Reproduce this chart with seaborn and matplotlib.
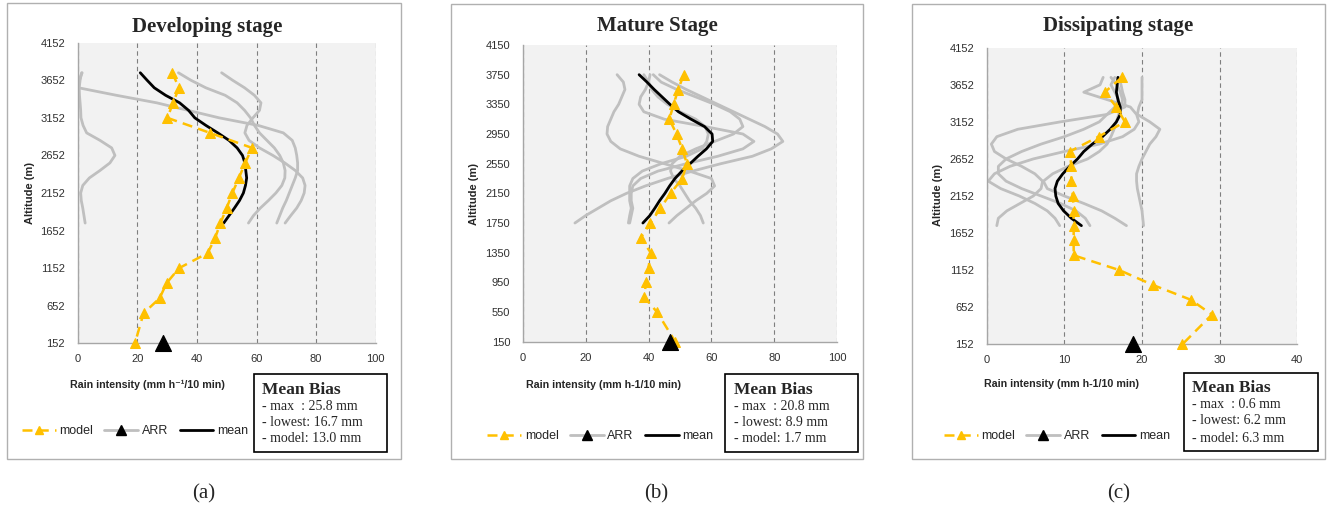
import numpy as np
import pandas as pd
import matplotlib
matplotlib.use("Agg")
import matplotlib.pyplot as plt
import seaborn as sns
from matplotlib.lines import Line2D
from matplotlib.patches import Rectangle

sns.set_style("white")
plt.rcParams['font.family'] = ['Liberation Sans', 'DejaVu Sans']

# ---------------- data ----------------
TITLES = ["Developing stage", "Mature Stage", "Dissipating stage"]
SUBLABELS = ["(a)", "(b)", "(c)"]
XLABELS = ["Rain intensity (mm h\u207b\u00b9/10 min)",
           "Rain intensity (mm h-1/10 min)",
           "Rain intensity (mm h-1/10 min)"]
BIAS_A = ["- max  : 25.8 mm", "- lowest: 16.7 mm", "- model: 13.0 mm"]
BIAS_B = ["- max  : 20.8 mm", "- lowest: 8.9 mm", "- model: 1.7 mm"]
BIAS_C = ["- max  : 0.6 mm", "- lowest: 6.2 mm", "- model: 6.3 mm"]

YTICKS_A = [152, 652, 1152, 1652, 2152, 2652, 3152, 3652, 4152]
YTICKS_B = [150, 550, 950, 1350, 1750, 2150, 2550, 2950, 3350, 3750, 4150]
YTICKS_C = [152, 652, 1152, 1652, 2152, 2652, 3152, 3652, 4152]
XTICKS_A = [0, 20, 40, 60, 80, 100]
XTICKS_B = [0, 20, 40, 60, 80, 100]
XTICKS_C = [0, 10, 20, 30, 40]

# panel (a)
ALT_A_MODEL = [3752, 3552, 3352, 3152, 2952, 2752, 2552, 2352, 2152, 1952, 1752,
               1552, 1352, 1152, 952, 752, 552, 152]
MODEL_A = [31.7, 34.0, 32.0, 30.1, 44.4, 58.5, 56.2, 54.1, 51.9, 50.0, 47.9,
           46.1, 43.6, 34.0, 29.8, 27.5, 22.1, 19.2]
ALT_A_GREY = [3752, 3652, 3552, 3452, 3352, 3252, 3152, 3052, 2952, 2852, 2752,
              2652, 2552, 2452, 2352, 2252, 2152, 2052, 1952, 1852, 1752]
MEAN_A = [21.0, 23.3, 25.7, 29.5, 34.2, 37.2, 39.3, 43.0, 47.0, 50.8, 53.5,
          55.3, 56.1, 56.4, 56.7, 56.3, 55.6, 54.3, 52.6, 50.8, 49.0]
OBS_A1 = [1.3, 0.8, 0.5, 0.6, 0.8, 1.0, 1.1, 1.8, 3.0, 7.5, 11.4,
          12.5, 10.8, 7.5, 3.9, 1.7, 1.0, 1.2, 1.7, 2.1, 2.5]
OBS_A2 = [33.8, 38.0, 43.0, 49.5, 53.5, 56.0, 58.0, 59.3, 61.0, 63.5, 66.0,
          67.8, 69.0, 69.6, 69.5, 68.5, 66.5, 64.0, 61.3, 59.0, 57.3]
OBS_A3 = [48.3, 52.0, 56.0, 59.3, 61.5, 61.0, 58.8, 56.8, 56.1, 57.5, 61.0,
          65.5, 69.5, 73.0, 75.5, 76.3, 76.0, 75.0, 73.5, 71.5, 69.6]
OBS_A4 = [1.5, 0.5, 0.3, 13.0, 26.5, 37.0, 47.5, 60.5, 69.0, 72.0, 73.0,
          73.5, 73.8, 73.8, 73.0, 72.0, 71.0, 70.0, 68.8, 67.8, 66.8]
ARR_A = 28.7

# panel (b)
ALT_B_MODEL = [3750, 3550, 3350, 3150, 2950, 2750, 2550, 2350, 2150, 1950, 1750,
               1550, 1350, 1150, 950, 750, 550, 150]
MODEL_B = [51.2, 49.4, 48.0, 46.6, 48.9, 50.7, 52.2, 50.7, 47.0, 43.8, 40.6,
           37.5, 40.7, 40.0, 39.2, 38.6, 42.7, 48.5]
ALT_B_GREY = [3750, 3650, 3550, 3450, 3350, 3250, 3150, 3050, 2950, 2850, 2750,
              2650, 2550, 2450, 2350, 2250, 2150, 2050, 1950, 1850, 1750]
MEAN_B = [37.0, 39.5, 41.8, 44.3, 46.8, 49.5, 53.5, 57.8, 60.2, 60.4, 58.4,
          55.7, 53.2, 50.6, 48.4, 46.7, 45.2, 43.5, 42.0, 40.4, 38.2]
OBS_B1 = [30.0, 32.0, 32.5, 31.5, 30.5, 29.0, 28.0, 27.0, 26.8, 28.0, 31.0,
          37.0, 45.0, 53.0, 60.0, 61.0, 58.5, 55.0, 52.0, 49.0, 46.5]
OBS_B2 = [43.5, 47.5, 52.0, 57.0, 62.0, 67.0, 72.0, 77.0, 81.0, 82.7, 79.0,
          73.0, 63.0, 54.0, 46.0, 39.0, 33.0, 28.0, 24.0, 20.0, 16.6]
OBS_B3 = [40.5, 40.0, 39.0, 37.5, 37.0, 38.5, 45.0, 58.0, 70.0, 73.5, 70.0,
          62.0, 52.0, 43.0, 37.5, 35.0, 34.5, 34.5, 35.0, 34.5, 34.0]
OBS_B4 = [41.5, 44.0, 49.0, 55.0, 61.0, 66.0, 69.0, 70.0, 67.0, 61.0, 55.0,
          50.0, 47.5, 47.0, 48.0, 50.0, 51.5, 53.0, 55.0, 56.5, 57.4]
OBS_B5 = [38.5, 40.0, 41.0, 43.0, 46.0, 50.0, 55.0, 58.0, 59.0, 58.5, 57.0,
          52.0, 44.0, 38.0, 35.0, 34.0, 34.0, 34.0, 34.5, 34.0, 33.6]
ARR_B = 46.8

# panel (c)
ALT_C_MODEL = [3752, 3552, 3352, 3152, 2952, 2752, 2552, 2352, 2152, 1952, 1752,
               1552, 1352, 1152, 952, 752, 552, 152]
MODEL_C = [17.4, 15.2, 16.7, 17.8, 14.4, 10.7, 10.9, 10.9, 11.1, 11.2, 11.2,
           11.2, 11.2, 17.1, 21.4, 26.3, 29.0, 25.2]
ALT_C_GREY = [3752, 3652, 3552, 3452, 3352, 3252, 3152, 3052, 2952, 2852, 2752,
              2652, 2552, 2452, 2352, 2252, 2152, 2052, 1952, 1852, 1752]
MEAN_C = [16.9, 16.8, 16.7, 16.9, 17.2, 17.2, 16.7, 15.9, 14.9, 13.6, 12.5,
          11.7, 10.7, 9.8, 9.1, 8.8, 8.9, 9.2, 9.9, 10.9, 12.2]
OBS_C1 = [20.0, 20.0, 20.0, 20.0, 19.6, 19.4, 21.0, 22.3, 21.8, 21.0, 20.5,
          20.0, 19.6, 19.3, 19.3, 19.4, 19.6, 19.8, 20.0, 20.1, 20.2]
OBS_C2 = [17.0, 17.3, 17.5, 17.8, 17.8, 15.5, 9.5, 4.0, 1.3, 0.6, 1.0,
          2.5, 4.5, 6.2, 7.2, 7.0, 6.0, 4.3, 2.6, 1.5, 1.3]
OBS_C3 = [15.0, 14.6, 12.5, 15.5, 18.5, 19.3, 19.6, 19.0, 17.5, 14.5, 10.0,
          6.0, 3.0, 1.0, 0.2, 1.8, 4.2, 6.2, 7.8, 8.8, 9.4]
OBS_C4 = [16.5, 16.0, 16.5, 17.0, 16.5, 15.5, 14.5, 12.5, 10.0, 7.0, 4.5,
          2.5, 1.5, 1.5, 2.5, 4.5, 7.0, 9.5, 11.5, 12.7, 13.3]
OBS_C5 = [16.0, 16.8, 17.2, 17.5, 17.3, 17.0, 16.7, 16.4, 16.0, 15.5, 14.5,
          13.0, 10.5, 8.5, 7.3, 7.8, 10.0, 12.5, 14.8, 16.5, 18.0]
ARR_C = 18.8

# ---------------- layout (pixels) ----------------
W, H = 1328, 512
fig = plt.figure(figsize=(W / 100, H / 100), dpi=100)


def fx(px):
    return px / W


def fy(py):
    return 1 - py / H


panels = [
    dict(ax=(77.7, 42.7, 375.7, 343.3), frame=(7, 3, 401, 459), title_xy=(207.5, 27),
         xlab_xy=(147.5, 384.5), ylab_xy=(30, 193), leg_xy=(135, 431),
         box=(254, 374, 387, 452), btext_x=262.5, by=(389.5, 407, 422.5, 439),
         sub_xy=(204, 494), xlim=(0, 100), ylim=(152, 4152),
         xt=XTICKS_A, yt=YTICKS_A, alt_m=ALT_A_MODEL, model=MODEL_A,
         alt_g=ALT_A_GREY, mean=MEAN_A, obs=[OBS_A1, OBS_A2, OBS_A3, OBS_A4],
         arr=ARR_A, bias=BIAS_A),
    dict(ax=(522.7, 45, 837.3, 341.7), frame=(451, 4, 863, 458.5), title_xy=(657, 26),
         xlab_xy=(604, 385), ylab_xy=(474, 194), leg_xy=(600.5, 436),
         box=(725, 374, 858, 452), btext_x=733.5, by=(389.5, 407, 422.5, 439),
         sub_xy=(656, 494), xlim=(0, 100), ylim=(150, 4150),
         xt=XTICKS_B, yt=YTICKS_B, alt_m=ALT_B_MODEL, model=MODEL_B,
         alt_g=ALT_B_GREY, mean=MEAN_B, obs=[OBS_B1, OBS_B2, OBS_B3, OBS_B4, OBS_B5],
         arr=ARR_B, bias=BIAS_B),
    dict(ax=(986.7, 47.7, 1297.3, 344.3), frame=(912, 4, 1325, 458.5), title_xy=(1118.5, 26),
         xlab_xy=(1061.5, 384), ylab_xy=(938, 195), leg_xy=(1057, 436),
         box=(1184, 372.7, 1318.3, 451), btext_x=1192.5, by=(388, 405, 421, 438.3),
         sub_xy=(1119, 494), xlim=(0, 40), ylim=(152, 4152),
         xt=XTICKS_C, yt=YTICKS_C, alt_m=ALT_C_MODEL, model=MODEL_C,
         alt_g=ALT_C_GREY, mean=MEAN_C, obs=[OBS_C1, OBS_C2, OBS_C3, OBS_C4, OBS_C5],
         arr=ARR_C, bias=BIAS_C),
]

GOLD = '#FFC000'
GREY = '#BFBFBF'
AXC = '#A6A6A6'

for i, p in enumerate(panels):
    # panel frame
    l, t, r, b = p['frame']
    fig.add_artist(Rectangle((fx(l), fy(b)), (r - l) / W, (b - t) / H,
                             transform=fig.transFigure, fill=False,
                             ec='#B0B0B0', lw=1.0, zorder=0))
    l, t, r, b = p['ax']
    ax = fig.add_axes([fx(l), fy(b), (r - l) / W, (b - t) / H])
    ax.set_facecolor('#F2F2F2')

    for obs in p['obs']:
        sns.lineplot(x=obs, y=p['alt_g'], sort=False, estimator=None, color=GREY,
                     lw=2, ax=ax, legend=False, zorder=2)
    sns.lineplot(x=p['mean'], y=p['alt_g'], sort=False, estimator=None, color='black',
                 lw=2, ax=ax, legend=False, zorder=3)
    sns.lineplot(x=p['model'], y=p['alt_m'], sort=False, estimator=None, color=GOLD,
                 lw=1.8, linestyle=(0, (4, 2.5)), marker='^', markersize=7,
                 markeredgecolor=GOLD, ax=ax, legend=False, zorder=4, clip_on=False)
    sns.scatterplot(x=[p['arr']], y=[p['ylim'][0]], marker='^', s=130, color='black',
                    edgecolor='black', ax=ax, legend=False, zorder=6, clip_on=False)

    ax.set_xlim(*p['xlim'])
    ax.set_ylim(*p['ylim'])
    ax.set_xticks(p['xt'])
    ax.set_yticks(p['yt'])
    ax.set_xlabel('')
    ax.set_ylabel('')
    ax.xaxis.grid(True, linestyle=(0, (4, 3)), color='#7F7F7F', lw=0.8)
    ax.yaxis.grid(False)
    ax.set_axisbelow(True)
    for s in ['top', 'right']:
        ax.spines[s].set_visible(False)
    for s in ['left', 'bottom']:
        ax.spines[s].set_color(AXC)
        ax.spines[s].set_linewidth(1.0)
    ax.tick_params(axis='y', direction='out', length=4, width=1, color=AXC,
                   labelsize=8, labelcolor='#303030', pad=5)
    ax.tick_params(axis='x', direction='inout', length=6, width=1, color=AXC,
                   labelsize=8, labelcolor='#303030', pad=5)

    # texts
    fig.text(fx(p['title_xy'][0]), fy(p['title_xy'][1]), TITLES[i], ha='center',
             va='center', fontsize=15, fontweight='bold', family='Liberation Serif')
    fig.text(fx(p['xlab_xy'][0]), fy(p['xlab_xy'][1]), XLABELS[i], ha='center',
             va='center', fontsize=7.7, fontweight='bold')
    fig.text(fx(p['ylab_xy'][0]), fy(p['ylab_xy'][1]), 'Altitude (m)', ha='center',
             va='center', fontsize=8, fontweight='bold', rotation=90)
    fig.text(fx(p['sub_xy'][0]), fy(p['sub_xy'][1]), SUBLABELS[i], ha='center',
             va='center', fontsize=15, family='Liberation Serif')

    # legend
    handles = [
        Line2D([], [], color=GOLD, lw=1.8, linestyle=(0, (4, 2.5)), marker='^',
               markersize=6, markeredgecolor=GOLD),
        Line2D([], [], color=GREY, lw=2, marker='^', markersize=7,
               markerfacecolor='black', markeredgecolor='black'),
        Line2D([], [], color='black', lw=2),
    ]
    fig.legend(handles, ['model', 'ARR', 'mean'], loc='center',
               bbox_to_anchor=(fx(p['leg_xy'][0]), fy(p['leg_xy'][1])), ncol=3,
               frameon=False, fontsize=9, handlelength=2.7, handletextpad=0.3,
               columnspacing=0.9, borderpad=0, borderaxespad=0)

    # mean bias box
    l, t, r, b = p['box']
    fig.add_artist(Rectangle((fx(l), fy(b)), (r - l) / W, (b - t) / H,
                             transform=fig.transFigure, fill=False, ec='black', lw=1.2))
    fig.text(fx(p['btext_x']), fy(p['by'][0]), 'Mean Bias', ha='left', va='center',
             fontsize=12.5, fontweight='bold', family='Liberation Serif')
    for k in range(3):
        fig.text(fx(p['btext_x']), fy(p['by'][k + 1]), p['bias'][k], ha='left',
                 va='center', fontsize=10, family='Liberation Serif')

fig.savefig('out.png', dpi=100, facecolor='white')
